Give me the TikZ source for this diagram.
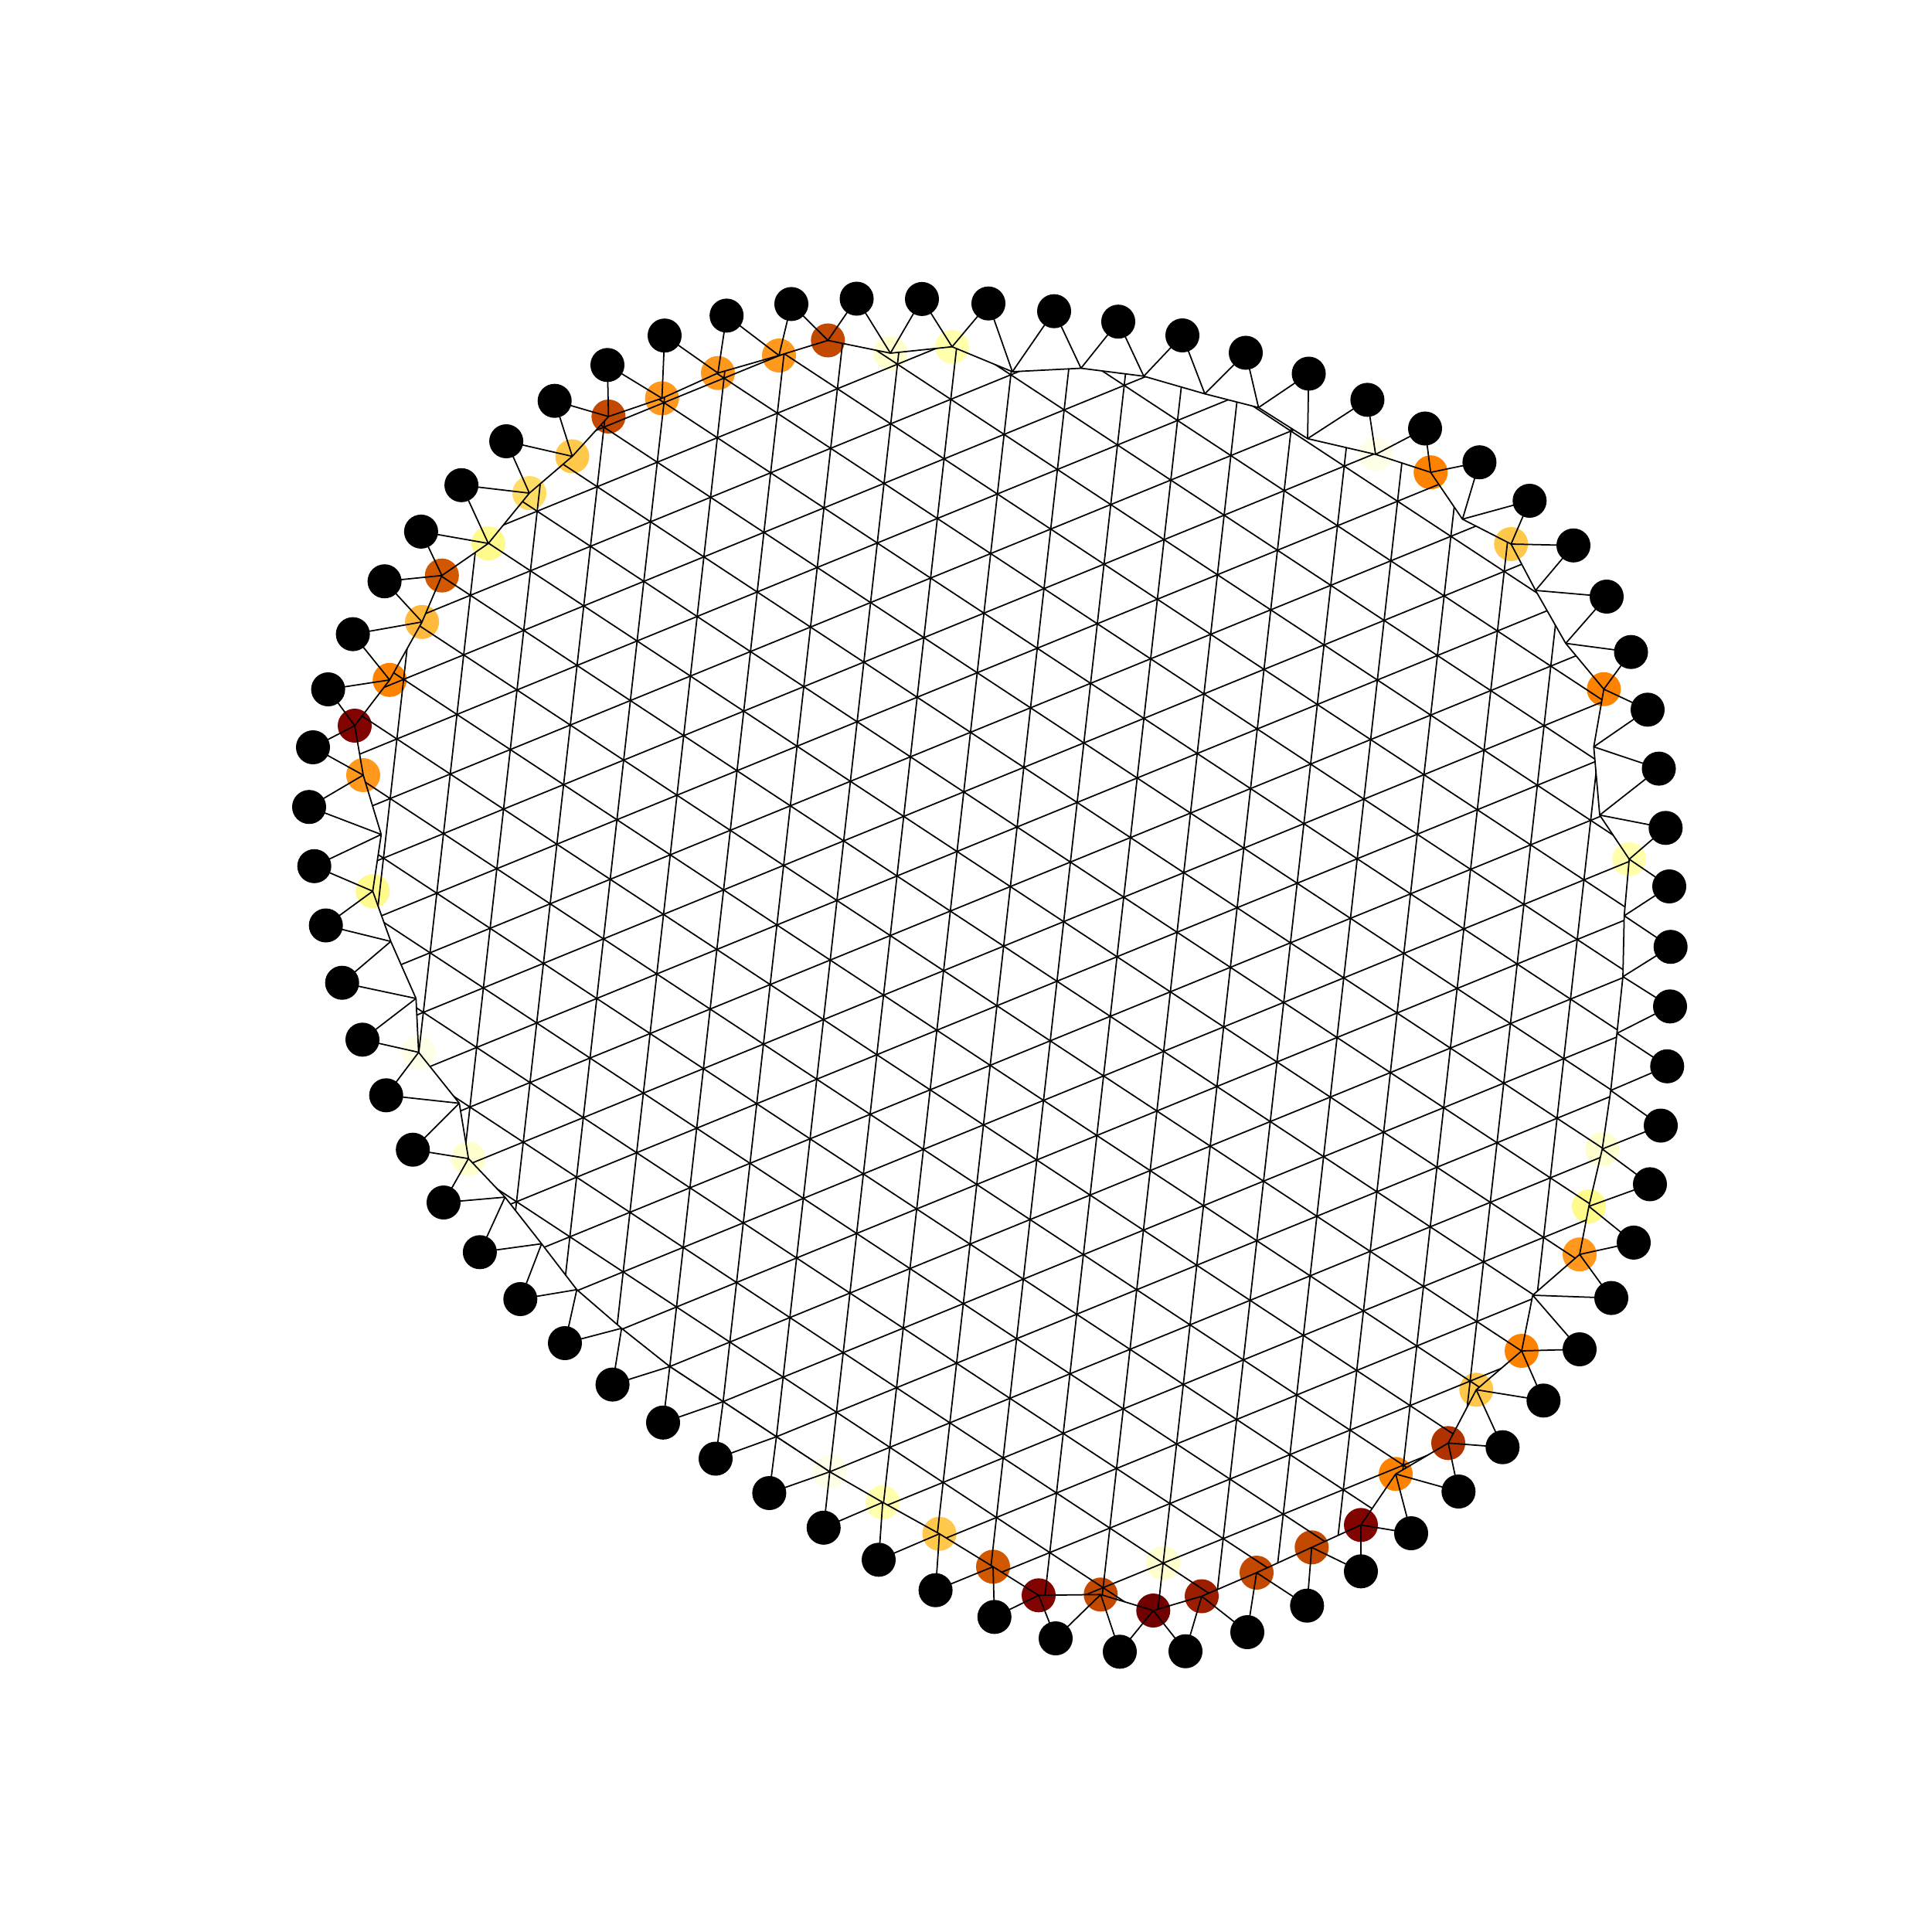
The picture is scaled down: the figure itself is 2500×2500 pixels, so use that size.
\documentclass[tikz,border=0pt]{standalone}

\definecolor{heat05}{RGB}{115,0,0}
\definecolor{heat10}{RGB}{130,4,0}
\definecolor{heat20}{RGB}{155,30,0}
\definecolor{heat25}{RGB}{175,50,0}
\definecolor{heat30}{RGB}{195,72,0}
\definecolor{heat35}{RGB}{210,88,0}
\definecolor{heat45}{RGB}{252,130,0}
\definecolor{heat50}{RGB}{255,152,28}
\definecolor{heat55}{RGB}{255,185,60}
\definecolor{heat60}{RGB}{255,200,75}
\definecolor{heat65}{RGB}{255,220,100}
\definecolor{heat70}{RGB}{255,250,140}
\definecolor{heat80}{RGB}{255,255,172}
\definecolor{heat90}{RGB}{255,255,205}
\definecolor{heat95}{RGB}{255,255,232}

\begin{document}
\begin{tikzpicture}[
    x=0.01cm, y=-0.01cm,
    leaf/.style={circle, fill=black, inner sep=0pt, minimum size=0.44cm},
    rim/.style={circle, inner sep=0pt, minimum size=0.44cm},
    link/.style={line width=0.5pt, black}
]
    \useasboundingbox (0,0) rectangle (2500,2500);

    % Rim nodes, coloured by value
    \foreach \k/\x/\y/\c in {
        1/459/939/heat10, 2/504.2/879.8/heat45, 3/546.1/804.8/heat55,
        4/571.8/744.7/heat35, 5/631.9/703.2/heat70, 6/685/638.1/heat65,
        7/740.5/590.5/heat60, 8/787.4/539/heat30, 9/856.6/515.4/heat50,
        10/929/482.7/heat50, 11/1008/460/heat50, 12/1071.3/440.5/heat30,
        13/1152.2/457/heat90, 14/1232/448.7/heat80, 15/1310/481/white,
        16/1398.8/476.5/white, 17/1480/486.8/white, 18/1559/509.6/white,
        19/1628.5/527.4/white, 20/1692/567.6/white, 21/1780/588/heat95,
        22/1851.2/611.2/heat45, 23/1892.4/671.8/white, 24/1955.3/704/heat60,
        25/1987/764/white, 26/2026/832.5/white, 27/2075.3/891.8/heat45,
        28/2062.3/966.4/white, 29/2070/1054.7/white, 30/2108.2/1111.8/heat80,
        31/2101.7/1185/white, 32/2100/1263.8/white, 33/2092.3/1337.1/white,
        34/2084.3/1411/white, 35/2073.3/1486.8/heat90, 36/2056/1561/heat70,
        37/2044/1623.2/heat50, 38/1983.3/1676/white, 39/1969/1748/heat45,
        40/1910.3/1798.3/heat60, 41/1874/1867.3/heat25, 42/1806/1907.3/heat45,
        43/1761/1973.3/heat10, 44/1697.3/2002.3/heat30, 45/1626/2035/heat30,
        46/1555/2065.5/heat20, 47/1492.3/2084/heat05, 48/1424.3/2063.3/heat30,
        49/1344/2064.3/heat10, 50/1285/2027.3/heat35, 51/1215.6/1984.7/heat60,
        52/1142.2/1944/heat80, 53/1073.7/1904.5/heat95, 54/1004.7/1859.1/white,
        55/935.7/1813.7/white, 56/866.7/1768.3/white, 57/804.3/1718.8/white,
        58/746.4/1668.8/white, 59/700.8/1609.4/white, 60/653.5/1549.1/white,
        61/606.2/1499.2/heat90, 62/594.3/1427.6/white, 63/541.7/1361.7/heat95,
        64/538.3/1292/white, 65/505.7/1218.2/white, 66/482.3/1153.2/heat70,
        67/493.3/1079.8/white, 68/470/1003/heat50}
        \node[rim, fill=\c] (R\k) at (\x,\y) {};

    % Outer leaves
    \foreach \k/\x/\y in {
        1/424.6/892, 2/456.6/820.6, 3/497.6/752.2, 4/544.9/687.9,
        5/597.1/627.8, 6/655.1/571, 7/717.7/518.7, 8/786/472.3,
        9/860/434.2, 10/940.2/408.4, 11/1024/393.4, 12/1108.5/386.5,
        13/1193/386.9, 14/1279/392.7, 15/1364/402.7, 16/1447/416.2,
        17/1530/434, 18/1612/456.5, 19/1693.5/483.5, 20/1769.4/517.4,
        21/1844/554.5, 22/1914.4/598.2, 23/1979.3/648, 24/2036/705.8,
        25/2079/772, 26/2110.5/843.7, 27/2132/918.3, 28/2146.5/994.6,
        29/2155.3/1071.3, 30/2160/1147, 31/2161.7/1225.2, 32/2161/1302.3,
        33/2157.3/1379.8, 34/2149/1456.5, 35/2135/1532.4, 36/2114/1607.9,
        37/2085/1679.6, 38/2044/1746, 39/1997.3/1812.3, 40/1944.3/1872.7,
        41/1887.3/1930, 42/1826/1984, 43/1761/2033.3, 44/1691.3/2077.7,
        45/1614/2112, 46/1534/2136.7, 47/1449/2137.3, 48/1366/2120,
        49/1286.8/2092.3, 50/1210.6/2057.7, 51/1137/2018.3, 52/1065.8/1976.8,
        53/995.4/1932, 54/926/1887.5, 55/858/1840.8, 56/792.6/1791.6,
        57/731/1738, 58/673.3/1681, 59/620.9/1620.3, 60/574/1556,
        61/534.2/1487.7, 62/499.7/1417.3, 63/469/1345.3, 64/442.7/1271.7,
        65/421.7/1197.5, 66/406.7/1120.8, 67/400/1044.2, 68/405/967}
        \node[leaf] (B\k) at (\x,\y) {};

    % Triangular lattice points
    \foreach \i in {0,...,26} {
        \foreach \j in {0,...,29} {
            \coordinate (L\i-\j) at ({1022.7+77.7*(\i-12)+69*(\j-11)},
                                     {1042.7-31.7*(\i-12)+45.4*(\j-11)});
        }
    }

    % Marked inner node
    \node[rim, fill=heat90] (P1) at (L4-27) {};

    % Lattice edges, cut at the rim
    \begin{scope}
        \clip (R1.center) \foreach \k in {2,...,68} { -- (R\k.center) } -- cycle;
        \foreach \i [evaluate=\i as \ii using int(\i+1)] in {0,...,25} {
            \foreach \j [evaluate=\j as \jp using int(\j+1),
                         evaluate=\j as \jm using int(\j-1)] in {1,...,28} {
                \draw[link] (L\i-\j) -- (L\ii-\j);
                \draw[link] (L\i-\j) -- (L\i-\jp);
                \draw[link] (L\i-\j) -- (L\ii-\jm);
            }
        }
    \end{scope}

    % Rim cycle and leaf spokes
    \foreach \k [evaluate=\k as \n using {int(mod(\k,68)+1)}] in {1,...,68} {
        \draw[link] (R\k.center) -- (R\n.center);
        \draw[link] (B\k.center) -- (R\k.center);
        \draw[link] (B\k.center) -- (R\n.center);
    }

\end{tikzpicture}
\end{document}
